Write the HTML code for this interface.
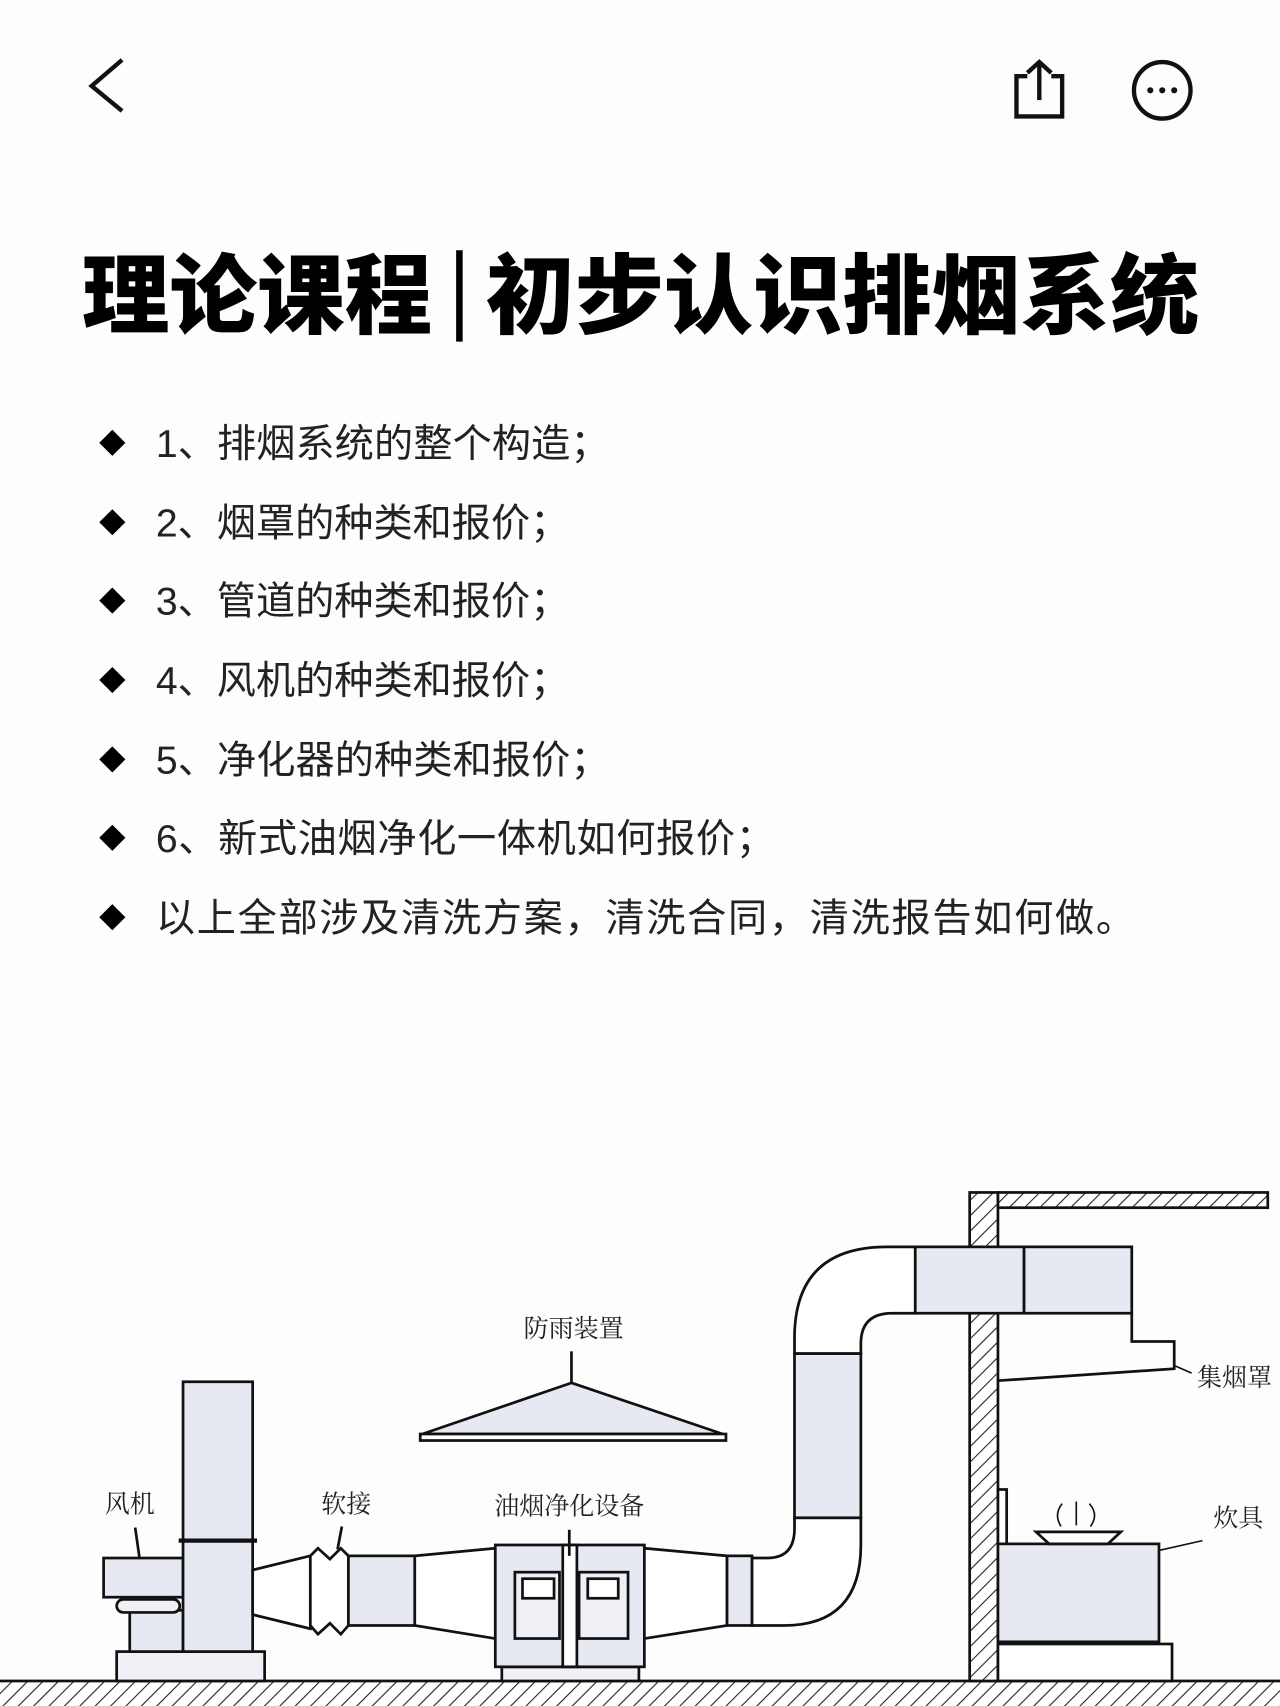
<!DOCTYPE html>
<html><head><meta charset="utf-8"><style>
html,body{margin:0;padding:0;background:#fdfdfd;}
svg{display:block;}
.t{font-family:"Liberation Sans","Noto Sans CJK SC",sans-serif;}
.d{font-family:"Liberation Serif","Noto Serif CJK SC",serif;fill:#222;font-size:23px;}
</style></head><body>
<svg width="1280" height="1706" viewBox="0 0 1176 1568" xmlns="http://www.w3.org/2000/svg">
<defs>
<pattern id="h" patternUnits="userSpaceOnUse" width="10" height="10" patternTransform="rotate(45)">
<rect width="10" height="10" fill="#fff"/><line x1="0" y1="0" x2="0" y2="10" stroke="#222" stroke-width="2"/>
</pattern>
</defs>
<rect width="1176" height="1568" fill="#fdfdfd"/>
<polyline points="112,55 84,79 112,102" fill="none" stroke="#111" stroke-width="4"/>
<path d="M944,70 L934,70 L934,107 L976,107 L976,70 L966,70" fill="none" stroke="#111" stroke-width="4"/>
<line x1="955" y1="57" x2="955" y2="92" stroke="#111" stroke-width="4"/>
<polyline points="944,67 955,57 966,67" fill="none" stroke="#111" stroke-width="4"/>
<circle cx="1068" cy="83" r="26" fill="none" stroke="#111" stroke-width="4"/>
<circle cx="1057" cy="83" r="2.8" fill="#111"/><circle cx="1068" cy="83" r="2.8" fill="#111"/><circle cx="1079" cy="83" r="2.8" fill="#111"/>
<text class="t" x="75" y="300" font-size="80" font-weight="900" fill="#000" textLength="322" lengthAdjust="spacingAndGlyphs">理论课程</text>
<rect x="419" y="230" width="6" height="84" fill="#000"/>
<text class="t" x="446" y="300" font-size="80" font-weight="900" fill="#000" textLength="656" lengthAdjust="spacingAndGlyphs">初步认识排烟系统</text>
<g class="t" font-size="36" fill="#222">
<g fill="#000">
<path d="M103,395 L115,407 L103,419 L91,407Z"/><path d="M103,468 L115,480 L103,492 L91,480Z"/>
<path d="M103,540 L115,552 L103,564 L91,552Z"/><path d="M103,613 L115,625 L103,637 L91,625Z"/>
<path d="M103,686 L115,698 L103,710 L91,698Z"/><path d="M103,758 L115,770 L103,782 L91,770Z"/>
<path d="M103,831 L115,843 L103,855 L91,843Z"/>
</g>
<text x="143" y="420" textLength="417">1、排烟系统的整个构造；</text>
<text x="143" y="493" textLength="380">2、烟罩的种类和报价；</text>
<text x="143" y="565" textLength="380">3、管道的种类和报价；</text>
<text x="143" y="638" textLength="380">4、风机的种类和报价；</text>
<text x="143" y="711" textLength="417">5、净化器的种类和报价；</text>
<text x="143" y="783" textLength="569">6、新式油烟净化一体机如何报价；</text>
<text x="143" y="856" textLength="900">以上全部涉及清洗方案，清洗合同，清洗报告如何做。</text>
</g>
<g stroke="#111" stroke-width="2.5" fill="#e6e8f2">
<rect x="-2" y="1545" width="1180" height="30" fill="url(#h)"/>
<rect x="891" y="1096" width="26" height="449" fill="url(#h)"/>
<rect x="917" y="1096" width="248" height="14" fill="url(#h)"/>
<rect x="107" y="1518" width="136" height="27" fill="#eef0f6"/>
<rect x="119" y="1480" width="49" height="38"/>
<rect x="95" y="1432" width="73" height="36"/>
<rect x="107" y="1470" width="58" height="12" rx="6" fill="#eef0f6"/>
<rect x="168" y="1270" width="64" height="248"/>
<line x1="164" y1="1416" x2="236" y2="1416" stroke-width="4"/>
<line x1="124" y1="1404" x2="128" y2="1432"/>
<path d="M232,1443 L285,1430 L285,1497 L232,1484Z" fill="#fff"/>
<path d="M285,1430 L292,1423 L303,1433 L313,1423 L320,1430 L320,1494 L313,1502 L303,1492 L292,1502 L285,1494Z" fill="#fff"/>
<line x1="314" y1="1403" x2="310" y2="1424"/>
<rect x="320" y="1430" width="61" height="64"/>
<path d="M381,1430 L455,1423 L455,1506 L381,1494Z" fill="#fff"/>
<rect x="461" y="1532" width="126" height="13" fill="#eef0f6"/>
<rect x="455" y="1420" width="137" height="112"/>
<rect x="517" y="1420" width="13" height="112" fill="#fff"/>
<rect x="473" y="1445" width="41" height="61" fill="#eef0f6"/>
<rect x="532" y="1445" width="45" height="61" fill="#eef0f6"/>
<rect x="480" y="1451" width="29" height="18" fill="#fff"/>
<rect x="540" y="1451" width="28" height="18" fill="#fff"/>
<line x1="523" y1="1406" x2="523" y2="1430"/>
<path d="M592,1423 L668,1430 L668,1494 L592,1506Z" fill="#fff"/>
<rect x="668" y="1430" width="23" height="64"/>
<path d="M691,1432 L705,1432 Q730,1432 730,1405 L730,1395 L791,1395 L791,1420 Q791,1494 720,1494 L691,1494Z" fill="#fff"/>
<rect x="730" y="1244" width="61" height="151"/>
<path d="M730,1244 L730,1230 Q730,1146 815,1146 L841,1146 L841,1207 L820,1207 Q791,1207 791,1235 L791,1244Z" fill="#fff"/>
<rect x="841" y="1146" width="100" height="61"/>
<rect x="941" y="1146" width="99" height="61"/>
<path d="M1040,1207 L1040,1233 L1079,1233 L1079,1258 L917,1269" fill="none"/>
<line x1="1079" y1="1255" x2="1095" y2="1262" stroke-width="1.5"/>
<line x1="525" y1="1242" x2="525" y2="1271"/>
<path d="M525,1271 L388,1318 L664,1318Z"/>
<rect x="386" y="1318" width="281" height="6" fill="#fff"/>
<rect x="917" y="1369" width="8" height="50" fill="#fff"/>
<rect x="917" y="1419" width="148" height="90"/>
<rect x="917" y="1511" width="160" height="34" fill="#fff"/>
<path d="M952,1408 L1030,1408 L1018,1419 L964,1419Z" fill="#fff"/>
<line x1="1065" y1="1425" x2="1105" y2="1416" stroke-width="1.5"/>
<path d="M976,1382 Q968,1392 975,1403 M989,1380 L989,1402 M1001,1382 Q1010,1392 1002,1403" fill="none" stroke-width="1.5"/>
</g>
<text class="d" x="527" y="1229" text-anchor="middle">防雨装置</text>
<text class="d" x="119" y="1390" text-anchor="middle">风机</text>
<text class="d" x="318" y="1390" text-anchor="middle">软接</text>
<text class="d" x="523" y="1392" text-anchor="middle">油烟净化设备</text>
<text class="d" x="1100" y="1274">集烟罩</text>
<text class="d" x="1115" y="1403">炊具</text>
</svg>
</body></html>
